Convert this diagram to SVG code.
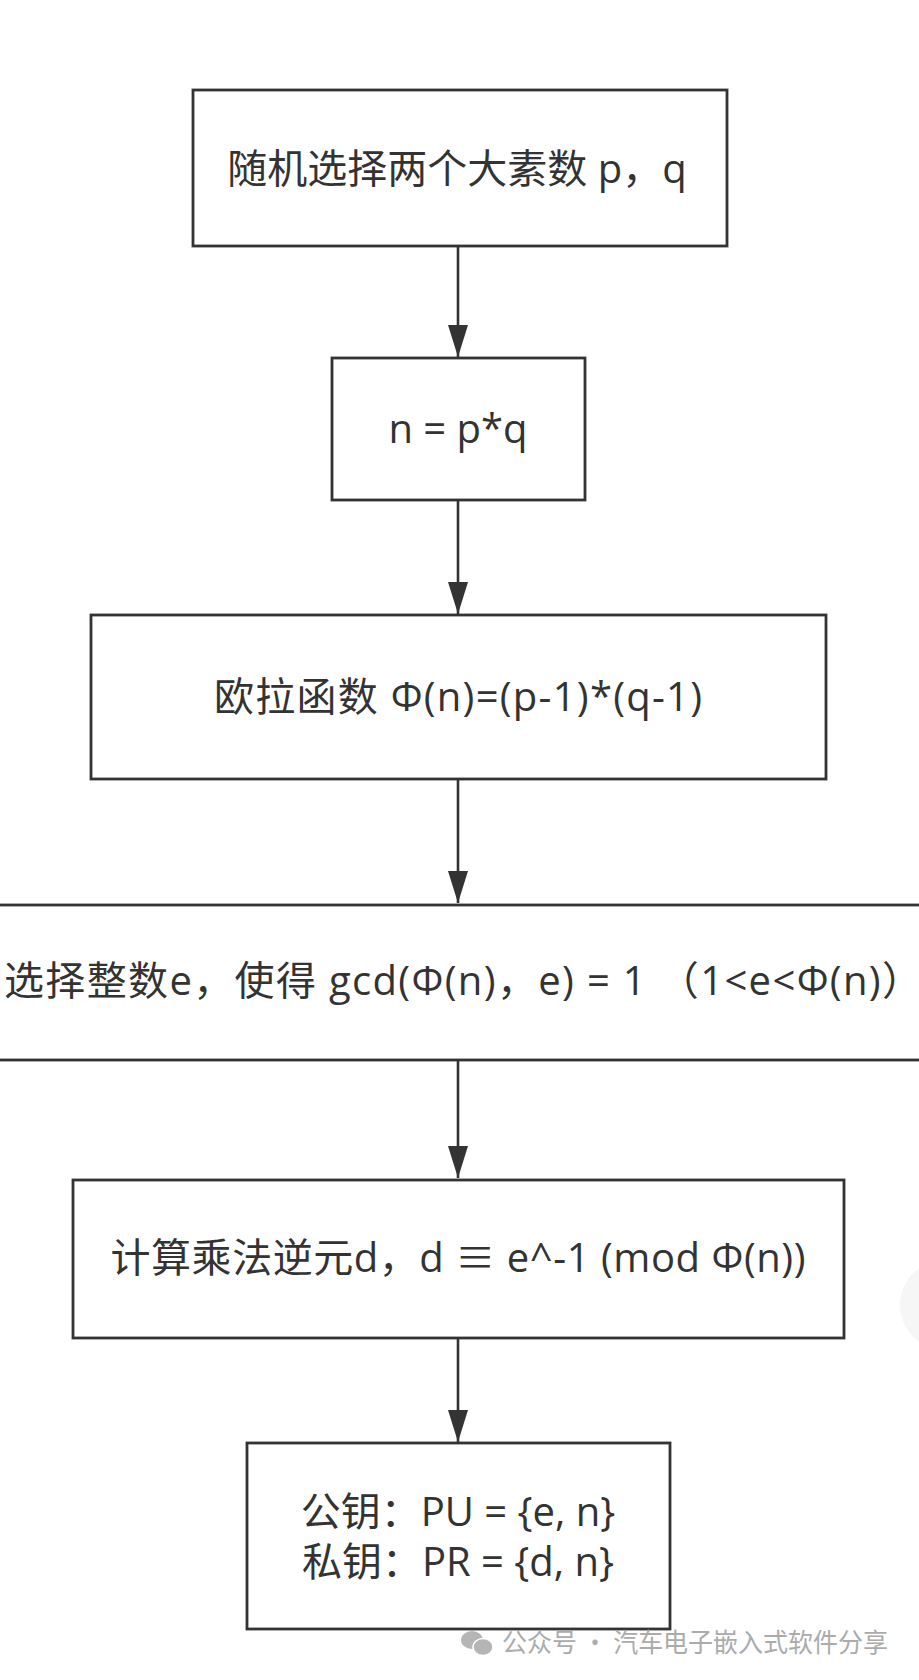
<svg xmlns="http://www.w3.org/2000/svg" width="919" height="1680" viewBox="0 0 919 1680">
<style>
.box{fill:#ffffff;stroke:#333333;stroke-width:2.8}
.lbl{font-family:"Open Sans","Noto Sans CJK SC",sans-serif;font-size:40px;fill:#333333;text-anchor:middle}
.edge{stroke:#333333;stroke-width:2.6;fill:none}
.wm{font-family:"Noto Sans CJK SC",sans-serif;font-size:26px;fill:#ababab}
</style>
<defs>
<marker id="ah" markerUnits="userSpaceOnUse" markerWidth="32" markerHeight="20" refX="32" refY="10" orient="auto" viewBox="0 0 32 20">
<path d="M0,0 L32,10 L0,20 Z" fill="#333333"/>
</marker>
</defs>
<rect width="919" height="1680" fill="#ffffff"/>
<circle cx="945" cy="1305" r="45" fill="#f6f6f6"/>
<g id="connectors">
<line class="edge" x1="458" y1="247" x2="458" y2="357" marker-end="url(#ah)"/>
<line class="edge" x1="458" y1="501" x2="458" y2="614" marker-end="url(#ah)"/>
<line class="edge" x1="458" y1="779" x2="458" y2="903" marker-end="url(#ah)"/>
<line class="edge" x1="458" y1="1060" x2="458" y2="1178" marker-end="url(#ah)"/>
<line class="edge" x1="458" y1="1339" x2="458" y2="1442" marker-end="url(#ah)"/>
</g>
<g id="node1">
<rect class="box" x="193" y="90" width="534" height="156"/>
<text class="lbl" x="457" y="183">随机选择两个大素数 p，q</text>
</g>
<g id="node2">
<rect class="box" x="332" y="358" width="253" height="142"/>
<text class="lbl" x="458" y="443">n = p*q</text>
</g>
<g id="node3">
<rect class="box" x="91" y="615" width="735" height="164"/>
<text class="lbl" x="458" y="711" textLength="488" lengthAdjust="spacing">欧拉函数 Φ(n)=(p-1)*(q-1)</text>
</g>
<g id="node4">
<rect class="box" x="-10" y="905" width="940" height="155"/>
<text class="lbl" x="4" y="995" style="text-anchor:start" textLength="918" lengthAdjust="spacing">选择整数e，使得 gcd(Φ(n)，e) = 1 （1&lt;e&lt;Φ(n)）</text>
</g>
<g id="node5">
<rect class="box" x="73" y="1180" width="771" height="158"/>
<text class="lbl" x="458" y="1272" textLength="695" lengthAdjust="spacing">计算乘法逆元d，d ≡ e^-1 (mod Φ(n))</text>
</g>
<g id="node6">
<rect class="box" x="247" y="1443" width="423" height="186"/>
<text class="lbl" x="458" y="1526">公钥：PU = {e, n}</text>
<text class="lbl" x="458" y="1576">私钥：PR = {d, n}</text>
</g>
<g id="watermark">
<ellipse cx="472" cy="1640" rx="11" ry="9" fill="#b5b5b5"/>
<ellipse cx="483" cy="1647" rx="10" ry="8.5" fill="#b5b5b5" stroke="#ffffff" stroke-width="1.5"/>
<text class="wm" x="502" y="1652" textLength="386" lengthAdjust="spacingAndGlyphs">公众号 · 汽车电子嵌入式软件分享</text>
</g>
</svg>
